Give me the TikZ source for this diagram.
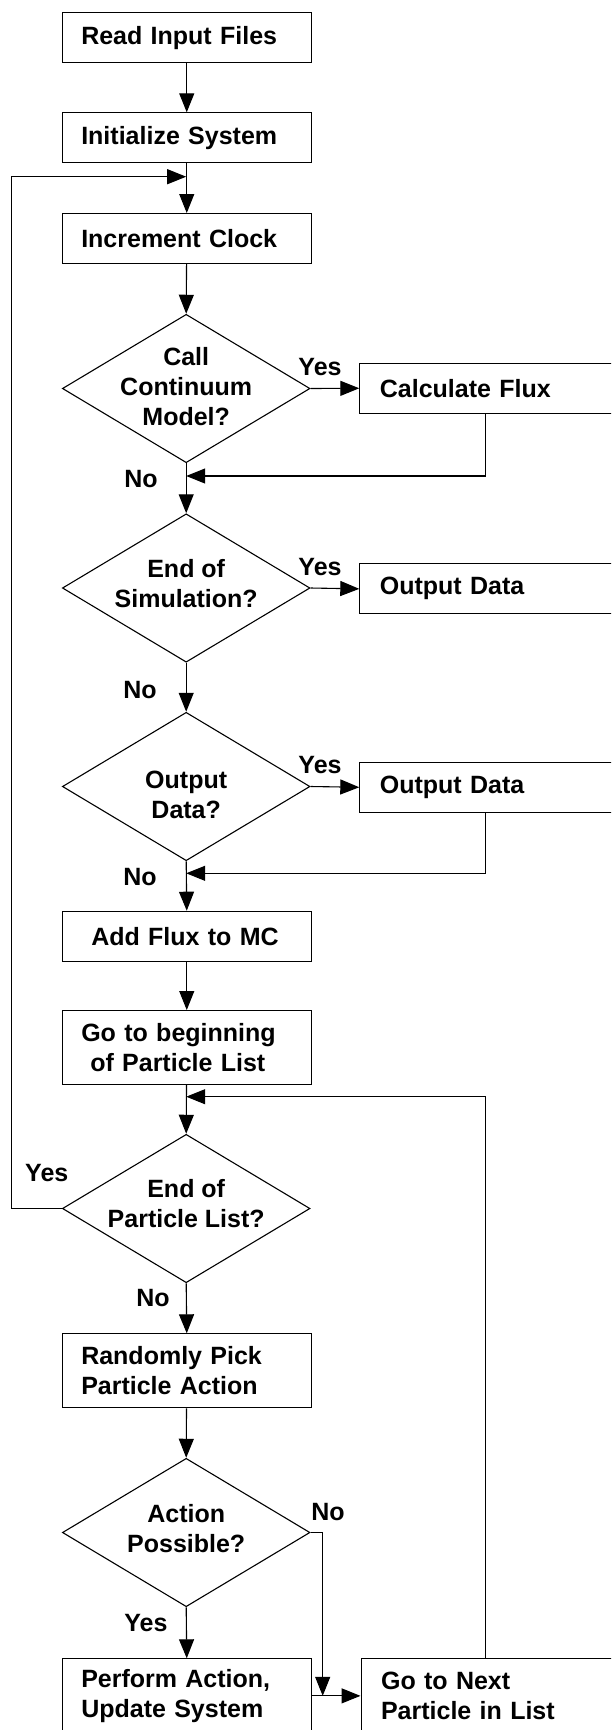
\documentclass[tikz,border=0pt]{standalone}
\usepackage{fontspec}
\setmainfont{Liberation Sans}
\usetikzlibrary{arrows.meta,shapes.geometric}
\begin{document}
\begin{tikzpicture}[x=1pt,y=-1pt,line width=1.1pt,
  >={Triangle[length=19pt,width=15pt]},
  txt/.style={font=\fontsize{25}{30}\selectfont\bfseries},
  box/.style={txt,draw,rectangle,anchor=north west,minimum height=50pt,
    text width=211pt,inner xsep=19pt,inner ysep=0pt,align=left},
  boxtwo/.style={box,minimum height=74pt},
  rbox/.style={box,text width=240pt,inner xsep=20pt},
  rboxtwo/.style={rbox,minimum height=74pt},
  dia/.style={draw,diamond,minimum width=247.6pt,minimum height=148.4pt,inner sep=0pt},
  dtxt/.style={txt,align=center,inner sep=0pt},
  lab/.style={txt,inner sep=0pt}]
\useasboundingbox (0,0) rectangle (611,1730);
\clip (0,0) rectangle (611,1730);

\node[box] (read) at (61.7,12.3) {Read Input Files};
\node[box] (init) at (61.7,112.3) {Initialize System};
\node[box] (inc) at (61.7,213) {Increment Clock};
\node[dia] (d1) at (186.2,388.5) {};
\node[dtxt] (d1t) at (186.2,387) {Call\\Continuum\\Model?};
\node[rbox] (flux) at (359.3,362.7) {Calculate Flux};
\node[dia] (d2) at (186.2,588) {};
\node[dtxt] (d2t) at (186.2,584) {End of\\Simulation?};
\node[rbox] (out1) at (359.3,563.3) {Output Data};
\node[dia] (d3) at (186.2,786.5) {};
\node[dtxt] (d3t) at (186.2,795) {Output\\Data?};
\node[rbox] (out2) at (359.3,761.7) {Output Data};
\node[box] (add) at (61.7,910.7) {\hspace*{10pt}Add Flux to MC};
\node[boxtwo] (beg) at (61.7,1010) {Go to beginning\\\hspace*{9pt}of Particle List};
\node[dia] (d4) at (186.2,1208.5) {};
\node[dtxt] (d4t) at (186.2,1203.5) {End of\\Particle List?};
\node[boxtwo] (pick) at (61.7,1333.3) {Randomly Pick\\Particle Action};
\node[dia] (d5) at (186.2,1532.5) {};
\node[dtxt] (d5t) at (186.2,1528.5) {Action\\Possible?};
\node[boxtwo] (perf) at (61.7,1658.3) {Perform Action,\\Update System};
\node[rboxtwo] (next) at (360.5,1658.3) {Go to Next\\Particle in List};

\coordinate (r) at (485.6,0);
\coordinate (lx) at (11.5,0);
\coordinate (nx) at (322.7,0);
\coordinate (j0) at (186.2,176.7);
\coordinate (j1) at (186.2,476);
\coordinate (j2) at (186.2,873.3);
\coordinate (j3) at (186.2,1096.7);

\draw[->] (read) -- (init);
\draw[->] (init) -- (inc);
\draw[->] (inc) -- (d1.north);
\draw[->] (d1.east) -- (flux.west);
\draw[->] (d1.south) -- (d2.north);
\draw[->] (flux.south -| r) |- (j1);
\draw[->] (d2.east) -- (out1.west);
\draw[->] (d2.south) -- (d3.north);
\draw[->] (d3.east) -- (out2.west);
\draw[->] (out2.south -| r) |- (j2);
\draw[->] (d3.south) -- (add.north);
\draw[->] (add) -- (beg);
\draw[->] (beg) -- (d4.north);
\draw[->] (next.north -| r) |- (j3);
\draw[->] (d4.south) -- (pick.north);
\draw[->] (d4.west) -- (d4.west -| lx) |- (j0);
\draw[->] (pick) -- (d5.north);
\draw[->] (d5.south) -- (perf.north);
\draw[->] (d5.east) -- (d5.east -| nx) -- (nx |- perf.east);
\draw[->] (perf.east) -- (next.west);

\node[lab] (y1) at (320,366.7) {Yes};
\node[lab] (n1) at (141,479) {No};
\node[lab] (y2) at (320,566.7) {Yes};
\node[lab] (n2) at (140,690) {No};
\node[lab] (y3) at (320,765) {Yes};
\node[lab] (n3) at (140,876.7) {No};
\node[lab] (y4) at (46.8,1173.3) {Yes};
\node[lab] (n4) at (153,1298.3) {No};
\node[lab] (n5) at (328,1511.7) {No};
\node[lab] (y5) at (146,1623.3) {Yes};
\end{tikzpicture}
\end{document}
